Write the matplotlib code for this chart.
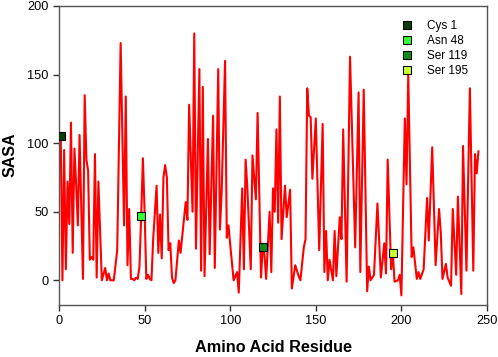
import numpy as np
import matplotlib
matplotlib.use('Agg')
import matplotlib.pyplot as plt

plt.rcParams['font.family'] = ['Liberation Sans', 'DejaVu Sans']

# residue number / SASA value (turning points of the trace)
residues = [1, 2, 3, 4, 5, 6, 7, 8, 9, 10, 11, 12, 14, 15, 16, 17, 18, 19, 20,
            21, 22, 23, 25, 27, 28, 29, 30, 32, 34, 36, 38, 39, 40, 41, 42, 43,
            44, 45, 46, 47, 48, 49, 50, 51, 52, 53, 54, 55, 57, 58, 59, 60, 61,
            62, 63, 64, 65, 66, 67, 68, 70, 71, 74, 75, 76, 78, 79, 80, 82, 83,
            84, 85, 87, 88, 90, 91, 93, 94, 95, 97, 98, 99, 100, 102, 104, 105,
            107, 108, 109, 110, 112, 113, 115, 116, 118, 119, 120, 121, 123,
            124, 125, 126, 127, 128, 129, 130, 132, 133, 135, 136, 138, 140,
            141, 143, 144, 145, 146, 147, 148, 150, 152, 154, 155, 156, 157,
            158, 160, 161, 162, 164, 165, 166, 168, 170, 173, 175, 176, 178,
            180, 181, 182, 184, 186, 188, 190, 191, 192, 194, 195, 196, 198,
            199, 200, 202, 203, 204, 206, 207, 209, 210, 211, 213, 215, 216,
            218, 220, 222, 223, 224, 226, 227, 229, 230, 232, 233, 235, 236,
            238, 240, 242, 243, 244, 245]
sasa = [105, 0, 95, 8, 72, 41, 115, 20, 96, 70, 40, 106, 1, 135, 88, 80, 15, 17, 15,
        92, 2, 72, 0, 9, 0, 5, 0, 0, 22, 173, 40, 134, 11, 52, 1, 1,
        0, 2, 1, 10, 47, 89, 50, 1, 4, 1, 0, 30, 69, 20, 48, 16, 75,
        84, 75, 22, 27, 2, -2, 0, 29, 20, 57, 44, 128, 50, 180, 23, 154, 7,
        141, 3, 103, 19, 120, 9, 154, 37, 64, 160, 31, 40, 26, 0, 6, -9,
        67, 8, 88, 68, 8, 91, 59, 122, 2, 24, 19, 1, 50,
        6, 67, 50, 110, 42, 134, 30, 69, 46, 66, -6, 11, 3,
        0, 24, 30, 140, 120, 119, 74, 118, 22, 114, 6, 36, 0,
        15, 0, 36, 3, 46, 30, 110, -1, 163, 24, 137, 6, 139,
        -8, 10, 0, 4, 56, 2, 27, 5, 88, 8, 20, -1, 0,
        4, -11, 118, 70, 150, 17, 24, 1, 6, 1, 8, 60, 29,
        97, 11, 52, 35, 1, 12, 2, -4, 52, 4, 61, -10, 98,
        7, 140, 7, 92, 78, 94]

# highlighted residues
site_labels = ['Cys 1', 'Asn 48', 'Ser 119', 'Ser 195']
site_res = [1, 48, 119, 195]
site_colors = ['#0b3d0b', '#33ff33', '#168a16', '#ccff33']

fig = plt.figure(figsize=(4.98, 3.57), dpi=100)
ax = fig.add_axes([0.1185, 0.1457, 0.8594, 0.8375])

ax.plot(residues, sasa, color='#ff0000', linewidth=1.5, zorder=2)

lookup = dict(zip(residues, sasa))
for lab, r, c in zip(site_labels, site_res, site_colors):
    ax.plot([r], [lookup[r]], linestyle='none', marker='s', markersize=6,
            markerfacecolor=c, markeredgecolor='black', markeredgewidth=0.8,
            label=lab, zorder=3)

ax.set_xlim(0, 250)
ax.set_ylim(-18, 200)
ax.set_xticks(np.arange(0, 251, 50))
ax.set_yticks(np.arange(0, 201, 50))
ax.tick_params(direction='out', length=4, width=1, labelsize=9.2, color='#333333')
for s in ax.spines.values():
    s.set_color('#555555')
    s.set_linewidth(1)

# axis titles placed by hand so they sit where the original has them
fig.text(273 / 498, 1 - 347 / 357, 'Amino Acid Residue', fontsize=11.7,
         fontweight='bold', ha='center', va='center')
fig.text(10 / 498, 1 - 155 / 357, 'SASA', fontsize=11.5, fontweight='bold',
         rotation=90, ha='center', va='center')

ax.legend(loc='upper left', frameon=False, fontsize=8.5, handletextpad=1.2,
          labelspacing=0.24, handlelength=1.0, borderpad=0, borderaxespad=0,
          bbox_to_anchor=(0.7986, 0.952))

plt.savefig('out.png', dpi=100)
